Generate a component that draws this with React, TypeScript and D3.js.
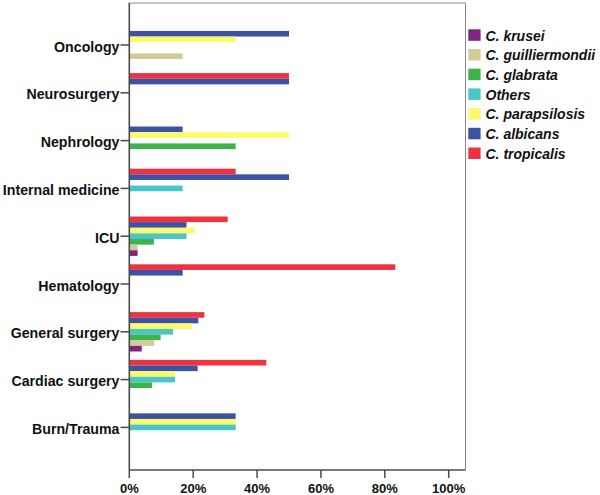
import React from "react";
import * as d3 from "d3";

const categories = [
  "Oncology",
  "Neurosurgery",
  "Nephrology",
  "Internal medicine",
  "ICU",
  "Hematology",
  "General surgery",
  "Cardiac surgery",
  "Burn/Trauma",
];

// series order within a group, top to bottom
const seriesNames = [
  "C. tropicalis",
  "C. albicans",
  "C. parapsilosis",
  "Others",
  "C. glabrata",
  "C. guilliermondii",
  "C. krusei",
];

const seriesColors = ["#EE3340", "#3F51A3", "#FAFA6E", "#4AC6C6", "#3CB44B", "#D2CB98", "#7D2680"];

// values (%) per category, same order as categories
const tropicalis = [0, 50, 0, 33.3, 30.8, 83.3, 23.5, 42.9, 0];
const albicans = [50, 50, 16.7, 50, 17.9, 16.7, 21.6, 21.4, 33.3];
const parapsilosis = [33.3, 0, 50, 0, 20.5, 0, 19.6, 14.3, 33.3];
const others = [0, 0, 0, 16.7, 17.9, 0, 13.7, 14.3, 33.3];
const glabrata = [0, 0, 33.3, 0, 7.7, 0, 9.8, 7.1, 0];
const guilliermondii = [16.7, 0, 0, 0, 2.6, 0, 7.8, 0, 0];
const krusei = [0, 0, 0, 0, 2.6, 0, 3.9, 0, 0];

const seriesValues = [tropicalis, albicans, parapsilosis, others, glabrata, guilliermondii, krusei];

const legendOrder = [
  "C. krusei",
  "C. guilliermondii",
  "C. glabrata",
  "Others",
  "C. parapsilosis",
  "C. albicans",
  "C. tropicalis",
];

const xTicks = [0, 20, 40, 60, 80, 100];

export default function App() {
  const W = 600;
  const H = 495;
  const left = 129.3;
  const right = 465.5;
  const top = 3;
  const bottom = 470;

  const x = d3.scaleLinear().domain([0, 100]).range([left, 448.7]);
  const y = d3.scaleBand<string>().domain(categories).range([21.1, 451.3]).padding(0);
  const step = y.bandwidth();
  const groupH = 39.4;
  const inner = d3
    .scaleBand<string>()
    .domain(seriesNames)
    .range([(step - groupH) / 2, (step + groupH) / 2])
    .padding(0);

  const font = "'Liberation Sans', Arial, sans-serif";
  const axisColor = "#4a4a4a";

  return (
    <svg width={W} height={H} style={{ position: "absolute", left: 0, top: 0, background: "#fff" }}>
      {/* frame */}
      <line x1={left} x2={right} y1={top} y2={top} stroke="#8a8a8a" strokeWidth={1} />
      <line x1={right} x2={right} y1={top} y2={bottom} stroke="#8a8a8a" strokeWidth={1} />

      {/* bars */}
      {categories.map((cat, ci) => (
        <g key={cat} transform={`translate(0,${y(cat)})`}>
          {seriesNames.map((s, si) => {
            const v = seriesValues[si][ci];
            if (!v) return null;
            return (
              <rect
                key={s}
                x={x(0)}
                y={inner(s)}
                width={x(v) - x(0)}
                height={inner.bandwidth()}
                fill={seriesColors[si]}
              />
            );
          })}
        </g>
      ))}

      {/* axes */}
      <line x1={left} x2={left} y1={top} y2={bottom} stroke={axisColor} strokeWidth={1.6} />
      <line x1={left} x2={right} y1={bottom} y2={bottom} stroke={axisColor} strokeWidth={1.6} />

      {/* y ticks and labels */}
      {categories.map((cat) => {
        const cy = (y(cat) as number) + step / 2;
        return (
          <g key={cat}>
            <line x1={120.5} x2={left} y1={cy} y2={cy} stroke={axisColor} strokeWidth={1.5} />
            <text
              x={119.5}
              y={cy + 6.5}
              textAnchor="end"
              fontFamily={font}
              fontWeight="bold"
              fontSize={14.2}
              fill="#111"
            >
              {cat}
            </text>
          </g>
        );
      })}

      {/* x ticks and labels */}
      {xTicks.map((t) => (
        <g key={t}>
          <line x1={x(t)} x2={x(t)} y1={bottom} y2={bottom + 8} stroke={axisColor} strokeWidth={1.5} />
          <text
            x={x(t)}
            y={492.5}
            textAnchor="middle"
            fontFamily={font}
            fontWeight="bold"
            fontSize={13}
            fill="#111"
          >
            {t}%
          </text>
        </g>
      ))}

      {/* legend */}
      {legendOrder.map((name, i) => {
        const si = seriesNames.indexOf(name);
        const ly = 29.3 + i * 19.7;
        return (
          <g key={name}>
            <rect x={468.3} y={ly} width={12.3} height={11.5} fill={seriesColors[si]} />
            <text
              x={485.5}
              y={ly + 11.3}
              fontFamily={font}
              fontWeight="bold"
              fontStyle="italic"
              fontSize={14}
              fill="#111"
            >
              {name}
            </text>
          </g>
        );
      })}
    </svg>
  );
}
